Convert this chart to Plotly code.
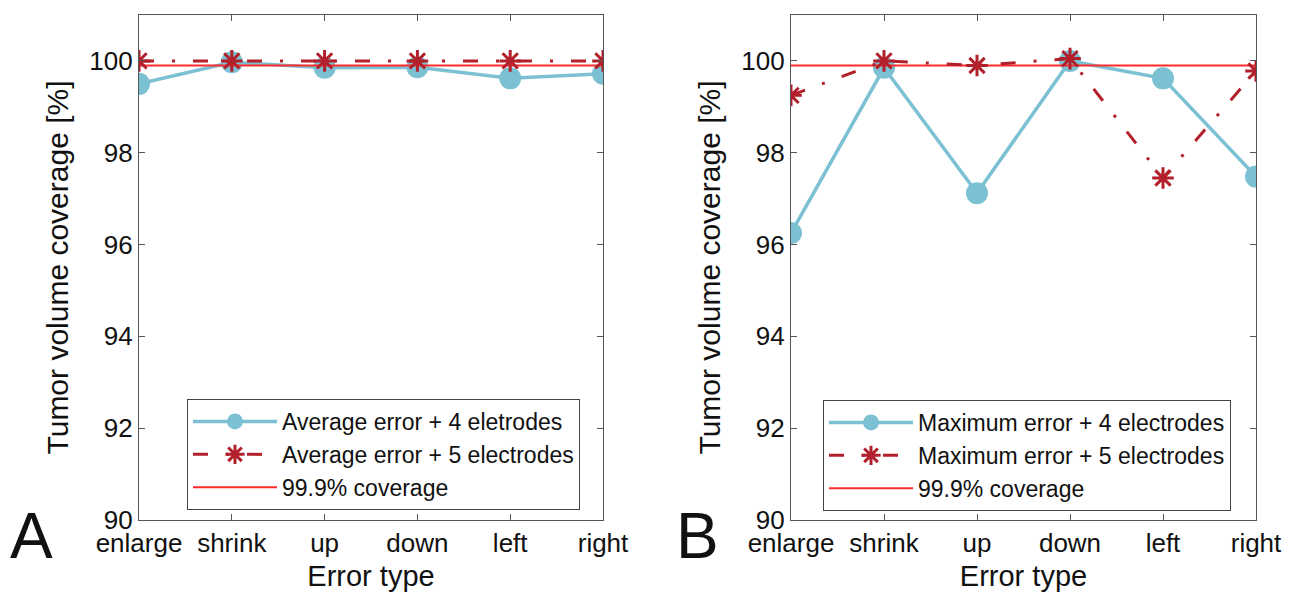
import plotly.graph_objects as go

categories = ["enlarge", "shrink", "up", "down", "left", "right"]

avg_4 = [99.50, 99.97, 99.85, 99.86, 99.62, 99.72]
avg_5 = [100.0, 100.0, 100.0, 100.0, 100.0, 100.0]
max_4 = [96.25, 99.85, 97.12, 100.0, 99.62, 97.48]
max_5 = [99.25, 100.0, 99.90, 100.05, 97.45, 99.78]
coverage = [99.9, 99.9, 99.9, 99.9, 99.9, 99.9]

y_ticks = [90, 92, 94, 96, 98, 100]

names_a = ["Average error + 4 eletrodes", "Average error + 5 electrodes", "99.9% coverage"]
names_b = ["Maximum error + 4 electrodes", "Maximum error + 5 electrodes", "99.9% coverage"]

BLUE = "#7BC0D3"
DARKRED = "#B1202B"
RED = "#FF2A2A"
FONT = "Liberation Sans, Arial, sans-serif"
TXT = "#111111"

# page body has an 8px default margin; lay out in page pixels and compensate
OFF = 8
W, H = 1291 - OFF, 592 - OFF


def px(x):
    return (x - OFF) / W


def py(y):
    return 1 - (y - OFF) / H


fig = go.Figure()


def add_panel(xa, ya, s4, s5, names, legend):
    fig.add_trace(go.Scatter(
        x=categories, y=s4, xaxis=xa, yaxis=ya, name=names[0], legend=legend,
        mode="lines+markers", legendrank=1,
        line=dict(color=BLUE, width=3.5),
        marker=dict(symbol="circle", size=22, color=BLUE)))
    fig.add_trace(go.Scatter(
        x=categories, y=coverage, xaxis=xa, yaxis=ya, name=names[2], legend=legend,
        mode="lines", legendrank=3,
        line=dict(color=RED, width=2)))
    fig.add_trace(go.Scatter(
        x=categories, y=s5, xaxis=xa, yaxis=ya, name=names[1], legend=legend,
        mode="lines+markers", legendrank=2,
        line=dict(color=DARKRED, width=3, dash="15px,18px,3px,18px"),
        marker=dict(symbol="asterisk-open", size=18, color=DARKRED,
                    line=dict(color=DARKRED, width=3))))


add_panel("x", "y", avg_4, avg_5, names_a, "legend")
add_panel("x2", "y2", max_4, max_5, names_b, "legend2")

ydom = [py(520), py(15)]
axis_common = dict(
    showline=True, linecolor="#555555", linewidth=1.2, mirror="allticks",
    ticks="inside", ticklen=6, tickcolor="#555555", showgrid=False, zeroline=False,
    tickfont=dict(family=FONT, size=26, color=TXT), automargin=False,
)
xcommon = dict(axis_common, type="category", range=[0, 5],
               title=dict(text="Error type", font=dict(family=FONT, size=29, color=TXT), standoff=10))
ycommon = dict(axis_common, range=[90, 101], tickvals=y_ticks,
               title=dict(text="Tumor volume coverage [%]", font=dict(family=FONT, size=30, color=TXT),
                          standoff=11))

legend_common = dict(
    xanchor="left", yanchor="top", bgcolor="white", bordercolor="#444444", borderwidth=1,
    font=dict(family=FONT, size=23, color=TXT), itemwidth=84, tracegroupgap=0,
)

fig.update_layout(
    width=W, height=H, margin=dict(l=0, r=0, t=0, b=0, autoexpand=False),
    paper_bgcolor="white", plot_bgcolor="white",
    font=dict(family=FONT, color=TXT),
    xaxis=dict(xcommon, domain=[px(139), px(603)], anchor="y"),
    yaxis=dict(ycommon, domain=ydom, anchor="x"),
    xaxis2=dict(xcommon, domain=[px(791), px(1256)], anchor="y2"),
    yaxis2=dict(ycommon, domain=ydom, anchor="x2"),
    legend=dict(legend_common, x=px(187), y=py(399)),
    legend2=dict(legend_common, x=px(823), y=py(400)),
    annotations=[
        dict(text="A", x=px(31), y=py(536), xref="paper", yref="paper", showarrow=False,
             xanchor="center", yanchor="middle", font=dict(family=FONT, size=64, color=TXT)),
        dict(text="B", x=px(698), y=py(536), xref="paper", yref="paper", showarrow=False,
             xanchor="center", yanchor="middle", font=dict(family=FONT, size=64, color=TXT)),
    ],
    showlegend=True,
)

fig.write_html("out.html")
